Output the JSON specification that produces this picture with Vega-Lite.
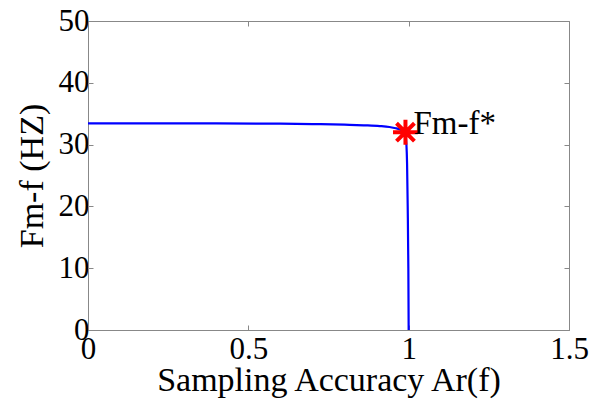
{
  "$schema": "https://vega.github.io/schema/vega-lite/v6.json",
  "width": 481,
  "height": 309,
  "autosize": {"type": "none"},
  "padding": {"left": 88, "top": 21, "right": 23, "bottom": 73},
  "background": "white",
  "config": {
    "view": {"stroke": "#888888", "strokeWidth": 1},
    "font": "Liberation Serif",
    "axis": {
      "domainColor": "#888888",
      "tickColor": "#888888",
      "tickSize": -5,
      "grid": false,
      "labelFont": "Liberation Serif",
      "labelFontSize": 31,
      "labelColor": "black",
      "titleFont": "Liberation Serif",
      "titleFontSize": 34,
      "titleFontWeight": "normal",
      "titleColor": "black"
    }
  },
  "datasets": {
    "curve": [
      {"ar": 0.0, "fm": 33.45},
      {"ar": 0.2, "fm": 33.44},
      {"ar": 0.4, "fm": 33.42},
      {"ar": 0.6, "fm": 33.38},
      {"ar": 0.7, "fm": 33.32},
      {"ar": 0.8, "fm": 33.22},
      {"ar": 0.86, "fm": 33.12},
      {"ar": 0.91, "fm": 33.0},
      {"ar": 0.94, "fm": 32.85},
      {"ar": 0.96, "fm": 32.65},
      {"ar": 0.975, "fm": 32.4},
      {"ar": 0.985, "fm": 32.1},
      {"ar": 0.99, "fm": 31.5},
      {"ar": 0.993, "fm": 30.0},
      {"ar": 0.995, "fm": 27.0},
      {"ar": 0.997, "fm": 20.0},
      {"ar": 0.999, "fm": 10.0},
      {"ar": 1.0, "fm": 0.0}
    ],
    "optimum": [
      {"ar": 0.99, "fm": 32.0, "label": "Fm-f*"}
    ]
  },
  "layer": [
    {
      "data": {"name": "curve"},
      "mark": {"type": "line", "color": "#0000ff", "strokeWidth": 2.2, "interpolate": "monotone", "clip": true},
      "encoding": {
        "x": {
          "field": "ar", "type": "quantitative",
          "scale": {"domain": [0, 1.5], "nice": false, "zero": false},
          "axis": {"values": [0, 0.5, 1, 1.5], "format": "~g", "title": "Sampling Accuracy Ar(f)", "labelBaseline": "alphabetic", "labelPadding": 33, "labelFlush": false, "titleBaseline": "alphabetic", "titleY": 60, "titleX": 240.5, "titleAlign": "center"}
        },
        "y": {
          "field": "fm", "type": "quantitative",
          "scale": {"domain": [0, 50], "nice": false},
          "axis": {"values": [0, 10, 20, 30, 40, 50], "title": "Fm-f  (HZ)", "labelPadding": 4, "labelFlush": false, "titleAngle": -90, "titleBaseline": "alphabetic", "titleAlign": "center", "titleX": -46, "titleY": 154.5}
        },
        "order": {"field": "ar", "type": "quantitative"}
      }
    },
    {
      "data": {"name": "optimum"},
      "mark": {
        "type": "point",
        "shape": "M-1,0L1,0M0,-1L0,1M-0.72,-0.72L0.72,0.72M-0.72,0.72L0.72,-0.72",
        "filled": false,
        "color": "#ff0000",
        "strokeWidth": 4,
        "size": 620,
        "opacity": 1
      },
      "encoding": {
        "x": {"field": "ar", "type": "quantitative", "axis": null},
        "y": {"field": "fm", "type": "quantitative", "axis": null}
      }
    },
    {
      "data": {"name": "optimum"},
      "mark": {"type": "text", "align": "left", "baseline": "alphabetic", "dx": 8, "dy": 2, "fontSize": 33, "font": "Liberation Serif", "color": "black"},
      "encoding": {
        "x": {"field": "ar", "type": "quantitative", "axis": null},
        "y": {"field": "fm", "type": "quantitative", "axis": null},
        "text": {"field": "label"}
      }
    },
    {
      "data": {"values": [{"ar": 0, "fm": 0}]},
      "mark": {"type": "point", "opacity": 0},
      "encoding": {
        "x": {
          "field": "ar", "type": "quantitative",
          "scale": {"domain": [0, 1.5], "nice": false},
          "axis": {"orient": "top", "values": [0, 0.5, 1, 1.5], "labels": false, "title": null, "domain": false}
        },
        "y": {
          "field": "fm", "type": "quantitative",
          "scale": {"domain": [0, 50], "nice": false},
          "axis": {"orient": "right", "values": [0, 10, 20, 30, 40, 50], "labels": false, "title": null, "domain": false}
        }
      }
    }
  ],
  "resolve": {"axis": {"x": "independent", "y": "independent"}}
}
